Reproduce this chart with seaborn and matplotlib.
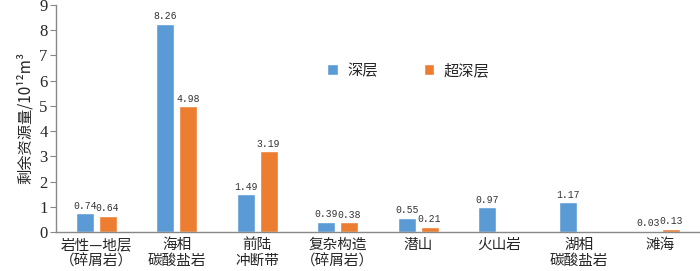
import pandas as pd
import numpy as np
import matplotlib
matplotlib.use("Agg")
import matplotlib.pyplot as plt
import seaborn as sns

categories = ["岩性—地层\n（碎屑岩）", "海相\n碳酸盐岩", "前陆\n冲断带", "复杂构造\n（碎屑岩）",
              "潜山", "火山岩", "湖相\n碳酸盐岩", "滩海"]
deep = [0.74, 8.26, 1.49, 0.39, 0.55, 0.97, 1.17, 0.03]
ultra_deep = [0.64, 4.98, 3.19, 0.38, 0.21, np.nan, np.nan, 0.13]
series = ["深层", "超深层"]

df = pd.DataFrame({
    "cat": categories * 2,
    "value": deep + ultra_deep,
    "layer": [series[0]] * len(categories) + [series[1]] * len(categories),
})

sns.set_style("white")
plt.rcParams['font.family'] = ['Noto Sans CJK SC', 'DejaVu Sans']

fig = plt.figure(figsize=(7, 2.71), dpi=100)
ax = fig.add_axes([0.08, 0.144, 0.92, 0.838])

sns.barplot(data=df, x="cat", y="value", hue="layer", order=categories, hue_order=series,
            palette=["#5B9BD5", "#ED7D31"], width=0.56, gap=0.2, ax=ax, saturation=1)

for cont in ax.containers:
    labels = ["" if np.isnan(v) else f"{v:.2f}" for v in cont.datavalues]
    ax.bar_label(cont, labels=labels, padding=2, fontsize=7, family="Liberation Mono", color="#333333")

ax.set_ylim(0, 9)
ax.set_xlim(-0.5, len(categories) - 0.5)
ax.set_yticks(range(10))
ax.set_yticklabels([str(i) for i in range(10)], family="Liberation Serif", fontsize=12)
ax.tick_params(axis="y", left=True, length=4, color="#888888", pad=2)
ax.tick_params(axis="x", bottom=False, labelsize=10.5, pad=1)
for lbl in ax.get_xticklabels():
    lbl.set_linespacing(1.15)
ax.set_xlabel("")
ax.set_ylabel("剩余资源量/10¹²m³", fontsize=11, labelpad=4)
for s in ["top", "right"]:
    ax.spines[s].set_visible(False)
for s in ["left", "bottom"]:
    ax.spines[s].set_color("#888888")
    ax.spines[s].set_linewidth(1)

ax.legend(title=None, ncol=2, frameon=False, loc="upper left", bbox_to_anchor=(0.4, 0.81),
          handlelength=0.7, handleheight=0.7, columnspacing=3, fontsize=11, handletextpad=0.6)

fig.savefig("out.png", dpi=100)
